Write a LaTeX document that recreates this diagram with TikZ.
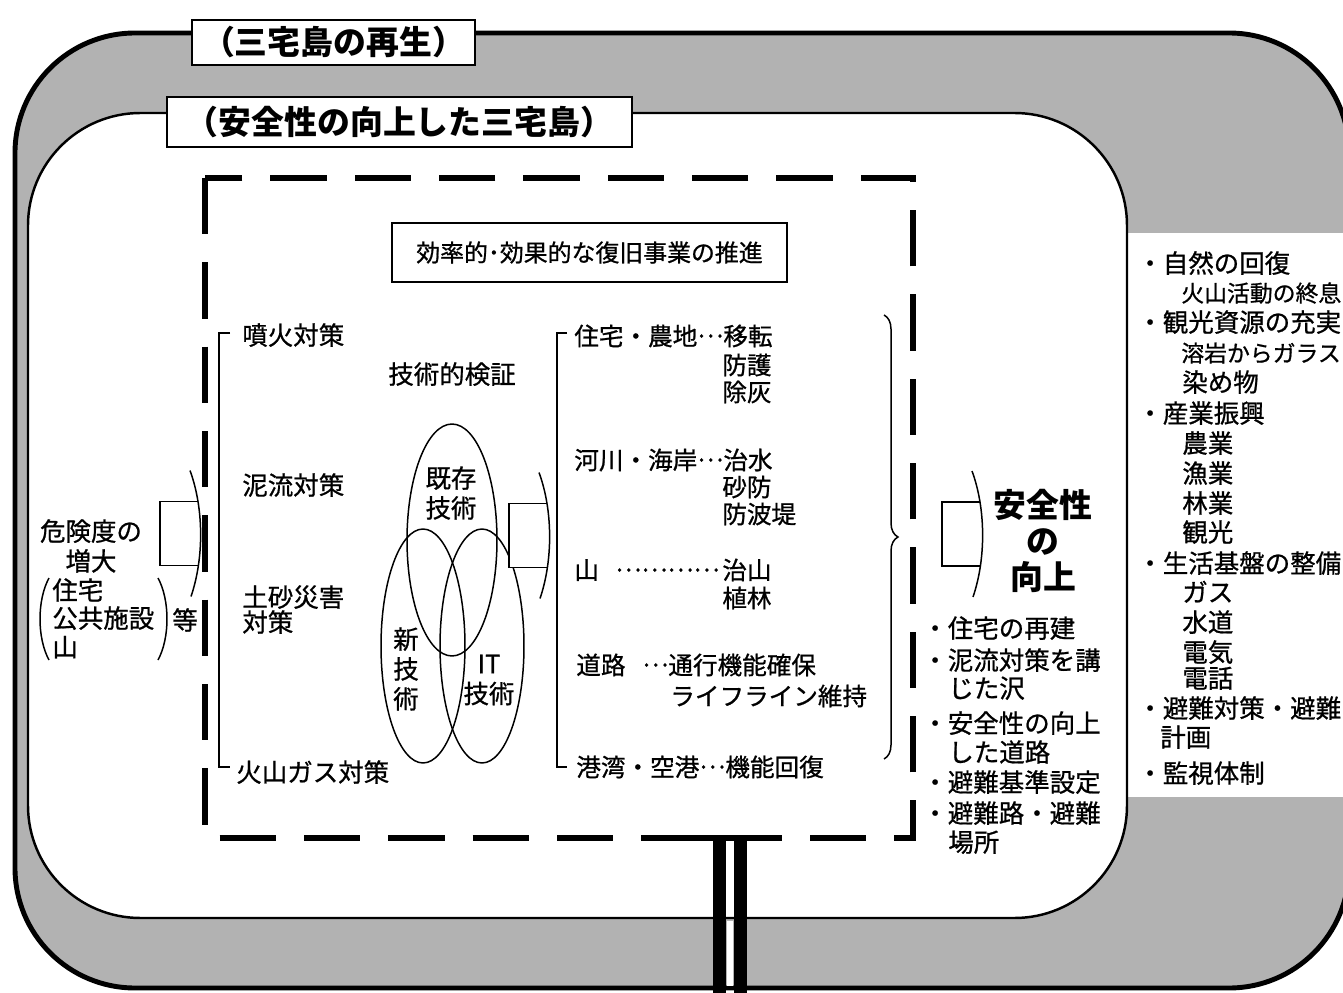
\documentclass[tikz,border=0pt]{standalone}
\usepackage{fontspec}
\setmainfont{Noto Sans CJK JP}[UprightFeatures={FakeBold=0.8}]
\usetikzlibrary{decorations.pathreplacing,shapes.geometric}
\newcommand{\szbody}{\fontsize{14.5pt}{17pt}\selectfont}
\newcommand{\sznarrow}{\fontsize{13pt}{17pt}\selectfont}
\newcommand{\szmid}{\fontsize{14pt}{16.5pt}\selectfont}
\newcommand{\szgoal}{\fontsize{13.6pt}{16pt}\selectfont}
\newcommand{\sztitle}{\fontsize{18.7pt}{21pt}\selectfont\bfseries}
\newcommand{\szbig}{\fontsize{18.7pt}{20.4pt}\selectfont\bfseries}
\newcommand{\ld}{\raisebox{0.32em}{…}}
\definecolor{band}{gray}{0.70}
\begin{document}
\begin{tikzpicture}[x=0.02cm,y=-0.02cm,
  txt/.style={font=\szbody,inner sep=0pt,anchor=west,text height=12.8pt,text depth=1.7pt},
  narrowtxt/.style={txt,font=\sznarrow},
  midtxt/.style={font=\szmid,inner sep=0pt,anchor=west,text height=12.3pt,text depth=1.7pt},
  ctxt/.style={font=\szbody,inner sep=0pt,align=center},
  hairline/.style={line width=0.85pt},
  outerline/.style={line width=2.8pt,rounded corners=2.4cm},
  innerline/.style={line width=1.4pt,rounded corners=2.25cm},
  dashbox/.style={line width=3.4pt,dash pattern=on 32pt off 16pt},
  bar/.style={line width=7.4pt},
  titlebox/.style={draw,line width=1.4pt,fill=white,font=\sztitle,inner sep=0pt},
  venn/.style={draw,ellipse,hairline,inner sep=0pt},
  flagarr/.pic={
    \draw[hairline,fill=white] (38,-32) -- (0,-32) -- (0,32) -- (38,32);
    \draw[hairline] (30,-63) .. controls (44,-25) and (44,25) .. (31,63);
  }
]
\useasboundingbox (0,0) rectangle (1343,993);
\clip (0,0) rectangle (1343,993);

% outer band
\fill[band,rounded corners=2.4cm] (15,33) rectangle (1349,988);
\fill[white] (1127,233) rectangle (1343,797);
\draw[outerline] (15,33) rectangle (1349,988);
\draw[innerline,fill=white] (28,113) rectangle (1127,918);
\fill[white] (727,921) rectangle (733,986);

% titles
\node[titlebox,minimum width=5.66cm,minimum height=0.9cm] (t1) at (333.5,42.5) {（三宅島の再生）};
\node[titlebox,minimum width=9.3cm,minimum height=1.0cm] (t2) at (399.5,122) {（安全性の向上した三宅島）};

% dashed frame and bars
\draw[dashbox] (205,178) rectangle (913,838);
\draw[line width=3.4pt] (673,838) -- (727,838);
\draw[bar] (719.5,836) -- (719.5,995);
\draw[bar] (740.5,838) -- (740.5,995);

% goal box
\node[draw,line width=1.2pt,font=\szgoal,minimum width=7.9cm,minimum height=1.18cm,inner sep=0pt] (goal) at (589.5,252.5) {効率的･効果的な復旧事業の推進};

% left input
\node[ctxt] (kiken) at (91,546) {危険度の\\増大};
\node[txt] (k1) at (52,590) {住宅};
\node[txt] (k2) at (52,618) {公共施設};
\node[txt] (k3) at (52,647) {山};
\draw[hairline] (49,578) .. controls (37,600) and (37,638) .. (49,660);
\draw[hairline] (158,578) .. controls (170,600) and (170,638) .. (158,660);
\node[txt] (tou) at (172,620) {等};
\pic (arrL) at (160,533.5) {flagarr};

% left bracket list
\draw[hairline] (230,333) -- (219,333) -- (219,767) -- (230,767);
\node[txt] (l1) at (242,335) {噴火対策};
\node[txt] (l2) at (242,485) {泥流対策};
\node[txt] (l3) at (242,597) {土砂災害};
\node[txt] (l3b) at (242,622) {対策};
\node[txt] (l4) at (236,772) {火山ガス対策};

% technical verification
\node[txt] (kensho) at (388,374) {技術的検証};
\node[venn,minimum width=1.8cm,minimum height=4.64cm] (venA) at (452,540) {};
\node[venn,minimum width=1.68cm,minimum height=4.68cm] (venB) at (423,646) {};
\node[venn,minimum width=1.68cm,minimum height=4.68cm] (venC) at (482,646) {};
\node[ctxt] (kizon) at (451,493) {既存\\技術};
\node[ctxt] (shin) at (406,669) {新\\技\\術};
\node[ctxt] (itg) at (489,680) {IT\\技術};
\pic (arrM) at (509,535.5) {flagarr};

% right bracket list
\draw[hairline] (567,333) -- (557,333) -- (557,767) -- (567,767);
\node[midtxt] (m1) at (574,336) {住宅・農地\ld 移転};
\node[midtxt] (m1b) at (722,365) {防護};
\node[midtxt] (m1c) at (722,392) {除灰};
\node[midtxt] (m2) at (574,460) {河川・海岸\ld 治水};
\node[midtxt] (m2b) at (722,487) {砂防};
\node[midtxt] (m2c) at (722,514) {防波堤};
\node[midtxt] (m3) at (574,570) {山};
\node[midtxt] (m3d) at (615,570) {\ld\ld\ld\ld};
\node[midtxt] (m3b) at (722,570) {治山};
\node[midtxt] (m3c) at (722,598) {植林};
\node[midtxt] (m4) at (576,665) {道路};
\node[midtxt] (m4b) at (642,665) {\ld 通行機能確保};
\node[midtxt] (m4c) at (670,696) {ライフライン維持};
\node[midtxt] (m5) at (576,767) {港湾・空港\ld 機能回復};
\draw[hairline,decorate,decoration={brace,amplitude=0.28cm}] (884,315) -- (884,759);

% result
\pic (arrR) at (942,534) {flagarr};
\node[font=\szbig,align=center,inner sep=0pt] (anzen) at (1043,541) {安全性\\の\\向上};
\foreach \x/\y/\t in {922/628/・住宅の再建, 922/660/・泥流対策を講, 948/688/じた沢,
  922/723/・安全性の向上, 948/752/した道路, 922/782/・避難基準設定,
  922/813/・避難路・避難, 948/842/場所}
  \node[txt] (s\y) at (\x,\y) {\t};

% outer list
\foreach \x/\y/\t in {1137/263/・自然の回復, 1137/322/・観光資源の充実,
  1182/382/染め物, 1137/413/・産業振興, 1182/443/農業,
  1182/473/漁業, 1182/503/林業, 1182/532/観光, 1137/563/・生活基盤の整備,
  1182/592/ガス, 1182/622/水道, 1182/652/電気, 1182/678/電話,
  1137/708/・避難対策・避難, 1160/737/計画, 1137/773/・監視体制}
  \node[txt] (r\y) at (\x,\y) {\t};
\node[narrowtxt] (r292) at (1181,292) {火山活動の終息};
\node[narrowtxt] (r352) at (1181,352) {溶岩からガラス};
\end{tikzpicture}
\end{document}
